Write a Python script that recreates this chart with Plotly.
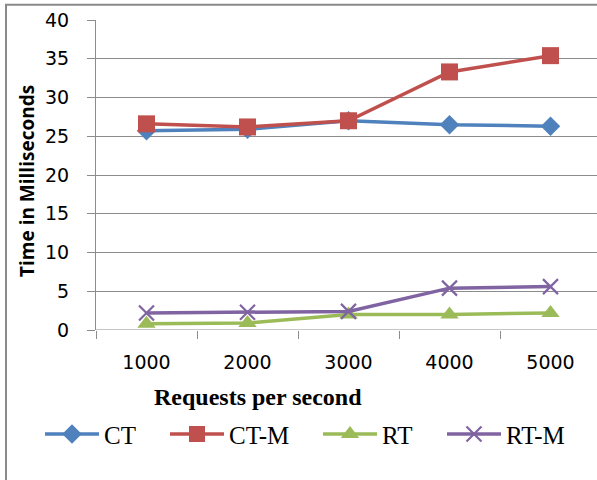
import plotly.graph_objects as go

# Request rates and measured times (ms)
categories = ["1000", "2000", "3000", "4000", "5000"]
ct = [25.7, 25.9, 27.0, 26.5, 26.3]
ct_m = [26.6, 26.2, 27.0, 33.3, 35.4]
rt = [0.8, 0.9, 2.0, 2.0, 2.2]
rt_m = [2.2, 2.3, 2.4, 5.4, 5.6]

series_names = ["CT", "CT-M", "RT", "RT-M"]
series_values = [ct, ct_m, rt, rt_m]
colors = ["#4F81BD", "#C0504D", "#9BBB59", "#8064A2"]
symbols = ["diamond", "square", "triangle-up", "x-thin"]
sizes = [15, 17, 16, 15]

x_pos = list(range(1, len(categories) + 1))

W, H = 597, 480
L, T, B = 96, 19.5, 149.5
plot_w = W - L
plot_h = H - T - B


def px_to_paper_x(px):
    return (px - L) / plot_w


def px_to_paper_y(py):
    return (H - B - py) / plot_h


# left edge (px) of each legend entry along the bottom row
legend_left_px = [40, 165, 318, 442]
legend_ids = ["legend", "legend2", "legend3", "legend4"]

fig = go.Figure()
for name, vals, col, sym, sz, lid in zip(series_names, series_values, colors,
                                         symbols, sizes, legend_ids):
    marker = dict(symbol=sym, size=sz, color=col)
    if sym == "x-thin":
        marker["line"] = dict(color=col, width=2.2)
    fig.add_trace(go.Scatter(
        x=x_pos, y=vals, name=name, mode="lines+markers",
        line=dict(color=col, width=3.5),
        marker=marker, legend=lid,
    ))

grid = "#8c8c8c"
legend_font = dict(family="Liberation Serif", size=25, color="black")

legend_layout = {}
for lid, lx in zip(legend_ids, legend_left_px):
    legend_layout[lid] = dict(
        orientation="h", x=px_to_paper_x(lx), xanchor="left",
        y=px_to_paper_y(435), yanchor="middle",
        font=legend_font, bgcolor="rgba(0,0,0,0)",
        itemwidth=54,
    )

fig.update_layout(
    width=W, height=H,
    margin=dict(l=L, r=0, t=T, b=B, pad=0),
    paper_bgcolor="white", plot_bgcolor="white",
    showlegend=True,
    xaxis=dict(
        range=[0.5, 0.5 + plot_w / 101.0],
        tickmode="array", tickvals=x_pos, ticktext=categories,
        ticks="", showgrid=False, zeroline=False,
        showline=False,
        tickfont=dict(family="DejaVu Sans", size=19, color="black"),
        ticklabelstandoff=19,
        minor=dict(tickmode="array", tickvals=[0.5, 1.5, 2.5, 3.5, 4.5, 5.5],
                   ticks="outside", ticklen=8, tickcolor=grid, tickwidth=1,
                   showgrid=False),
    ),
    yaxis=dict(
        range=[0, 40], tickmode="linear", tick0=0, dtick=5,
        showgrid=True, gridcolor=grid, gridwidth=1,
        zeroline=False, showline=True, linecolor=grid, linewidth=1,
        ticks="outside", ticklen=8, tickcolor=grid,
        tickfont=dict(family="DejaVu Sans", size=19, color="black"),
        ticklabelstandoff=14,
    ),
    annotations=[
        dict(text="<b>Requests per second</b>", xref="paper", yref="paper",
             x=px_to_paper_x(258), y=px_to_paper_y(398),
             xanchor="center", yanchor="middle", showarrow=False,
             font=dict(family="Liberation Serif", size=24, color="black")),
        dict(text="<b>Time in Milliseconds</b>", xref="paper", yref="paper",
             x=px_to_paper_x(27), y=px_to_paper_y(181), textangle=-90,
             xanchor="center", yanchor="middle", showarrow=False,
             font=dict(family="Open Sans", size=19, color="black")),
    ],
    shapes=[
        # chart frame
        dict(type="rect", xref="paper", yref="paper", layer="below",
             x0=px_to_paper_x(6), x1=px_to_paper_x(W + 20),
             y0=px_to_paper_y(H + 20), y1=px_to_paper_y(4.3),
             line=dict(color="#8a8a8a", width=2), fillcolor="rgba(0,0,0,0)"),
        # x axis baseline at 0
        dict(type="line", xref="paper", yref="y", x0=0, x1=1, y0=0, y1=0,
             line=dict(color=grid, width=1), layer="below"),
    ],
    **legend_layout,
)

fig.write_html("out.html")
